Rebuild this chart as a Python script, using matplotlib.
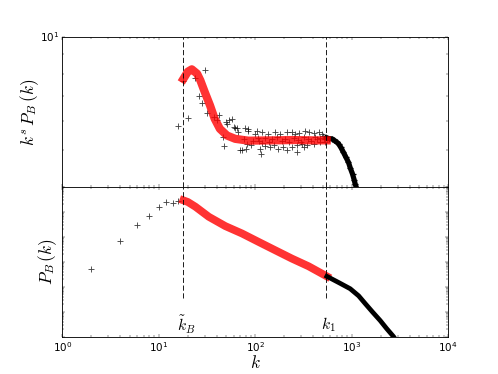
import matplotlib
matplotlib.use("Agg")
from matplotlib import pyplot
from matplotlib.ticker import NullFormatter

K_B = 18.0
K_1 = 535.0

# top panel: compensated spectrum, raw points between k_B and k_1
TOP_K = [16, 18, 20, 24, 26, 28, 30, 32, 37, 40, 42, 46, 48, 50, 51, 53, 57, 60,
         62, 65, 67, 70, 73, 76, 79, 80, 82, 84, 85, 91, 94, 100, 104, 108, 113,
         115, 117, 118, 127, 137, 143, 155, 161, 174, 182, 196, 213, 214, 240,
         241, 260, 270, 271, 281, 305, 317, 330, 343, 357, 402, 404, 453, 472,
         491, 531]
TOP_V = [5.80, 7.63, 6.11, 7.79, 7.00, 6.70, 8.20, 6.28, 6.13, 6.01, 6.22, 5.44,
         5.15, 5.94, 5.89, 6.01, 6.05, 5.77, 5.73, 5.74, 5.59, 5.00, 5.03, 5.37,
         5.73, 5.05, 5.21, 5.71, 5.65, 5.18, 5.31, 5.54, 5.65, 5.39, 5.05, 4.90,
         5.59, 5.24, 5.15, 5.54, 5.10, 5.18, 5.59, 5.05, 5.54, 5.10, 5.59, 5.00,
         5.61, 5.10, 5.54, 5.18, 4.95, 5.57, 5.21, 5.10, 5.65, 5.18, 5.59, 5.57,
         5.21, 5.59, 5.26, 5.54, 5.28]
# points hidden under the fit
BAND_K = [110, 125, 140, 150, 170, 190, 205, 225, 250, 275, 300, 320, 350, 380,
          420, 440, 470, 500, 520, 545]
BAND_V = [5.30, 5.40, 5.28, 5.36, 5.42, 5.30, 5.38, 5.27, 5.40, 5.33, 5.28,
          5.42, 5.35, 5.30, 5.44, 5.36, 5.40, 5.45, 5.38, 5.42]

TOP_FIT_K = [18, 20, 22, 25, 27, 30, 34, 38, 43, 51, 62, 85, 150, 250, 400, 550]
TOP_FIT_V = [7.75, 8.10, 8.22, 8.00, 7.68, 7.15, 6.59, 6.07, 5.71, 5.48, 5.37,
             5.31, 5.32, 5.33, 5.32, 5.32]

TOP_TAIL_K = [550, 580, 623, 660, 700, 730, 770, 822, 870, 926, 970, 1019, 1060,
              1087, 1130, 1160]
TOP_TAIL_V = [5.40, 5.38, 5.37, 5.32, 5.26, 5.21, 5.10, 4.94, 4.80, 4.65, 4.48,
              4.33, 4.18, 4.07, 3.95, 3.85]

# bottom panel: P_B(k)
LOW_K = [2, 4, 6, 8, 10, 12, 14, 16]
LOW_P = [5.3e-4, 6.9e-3, 2.95e-2, 0.070, 0.161, 0.256, 0.221, 0.281]

FIT_K = [18, 20, 24, 33, 49, 73, 108, 161, 240, 357, 553]
FIT_P = [0.29, 0.25, 0.161, 0.0637, 0.0269, 0.0136, 6.3e-3, 2.9e-3, 1.34e-3,
         6.6e-4, 2.6e-4]

TAIL_K = [553, 750, 964, 1180, 1381, 1650, 1973, 2300, 2713, 3100]
TAIL_P = [2.6e-4, 1.4e-4, 8.3e-5, 4.3e-5, 2.1e-5, 9.5e-6, 4.4e-6, 2.1e-6,
          1.0e-6, 4.5e-7]

pyplot.style.use("classic")
fig = pyplot.figure(figsize=(8, 6.01), dpi=62.25)
fig.subplots_adjust(left=0.125, right=0.9, bottom=0.1, top=0.9, hspace=0)
ax1 = fig.add_subplot(211)
ax2 = fig.add_subplot(212, sharex=ax1)

dash = dict(color="k", linestyle="--", dashes=(6, 3), linewidth=1)
pts = dict(alpha=0.75, markersize=7, markeredgewidth=1)

ax1.plot(TOP_K, TOP_V, "k+", **pts)
ax1.plot(BAND_K, BAND_V, "k+", **pts)
ax1.plot(TOP_TAIL_K, TOP_TAIL_V, "k+-", linewidth=6, markersize=8,
         markeredgewidth=1.5)
ax1.plot(TOP_FIT_K, TOP_FIT_V, "r-", linewidth=9.5, alpha=0.8)
ax1.axvline(K_B, **dash)
ax1.axvline(K_1, **dash)
ax1.set_xscale("log")
ax1.set_yscale("log")
ax1.set_xlim(1, 1e4)
ax1.set_ylim(4, 10)
ax1.yaxis.set_minor_formatter(NullFormatter())
ax1.tick_params(labelbottom=False)
ax1.set_ylabel(r"$k^s\,P_B\,(k)$", fontsize=20, labelpad=-2)

ax2.plot(LOW_K, LOW_P, "k+", **pts)
ax2.plot(FIT_K, FIT_P, "r-", linewidth=9, alpha=0.8)
ax2.plot(TAIL_K, TAIL_P, "k-", linewidth=5.5)
ax2.axvline(K_B, ymin=0.255, **dash)
ax2.axvline(K_1, ymin=0.255, **dash)
ax2.set_yscale("log")
ax2.set_ylim(1e-6, 1)
ax2.yaxis.set_major_formatter(NullFormatter())
ax2.yaxis.set_minor_formatter(NullFormatter())
ax2.set_xlim(1, 1e4)
ax2.set_xlabel(r"$k$", fontsize=20, labelpad=0)
ax2.set_ylabel(r"$P_B\,(k)$", fontsize=20, labelpad=0)

trans = ax2.get_xaxis_transform()
ax2.text(19.6, 0.08, r"$\tilde{k}_B$", transform=trans, ha="center",
         va="center", fontsize=18)
ax2.text(568, 0.08, r"$k_1$", transform=trans, ha="center", va="center",
         fontsize=18)

fig.savefig("out.png", dpi=62.25)
